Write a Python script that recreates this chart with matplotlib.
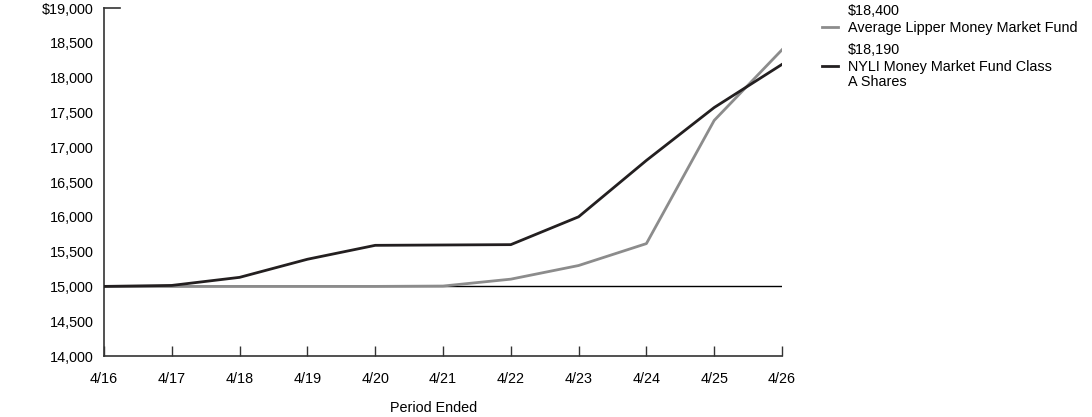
import matplotlib.pyplot as plt
from matplotlib.lines import Line2D

plt.rcParams['font.family'] = ['Liberation Sans', 'DejaVu Sans']

# data
periods = ['4/16', '4/17', '4/18', '4/19', '4/20', '4/21', '4/22', '4/23', '4/24', '4/25', '4/26']
nyli = [15000, 15014, 15130, 15390, 15590, 15595, 15600, 16000, 16810, 17570, 18190]
lipper = [15000, 15000, 15000, 15000, 15000, 15005, 15104, 15300, 15615, 17385, 18400]
lipper_label = 'Average Lipper Money Market Fund'
nyli_label = 'NYLI Money Market Fund Class\nA Shares'
yticks = [14000, 14500, 15000, 15500, 16000, 16500, 17000, 17500, 18000, 18500, 19000]

black = '#231f20'
gray = '#8c8c8c'
fs = 10.4

fig = plt.figure(figsize=(10.92, 4.17), dpi=100)
ax = fig.add_axes([104 / 1092, 1 - 356 / 417, (782 - 104) / 1092, (356 - 8) / 417])

x = list(range(len(periods)))
ax.axhline(15000, color='black', lw=1, zorder=1)
ax.plot(x, lipper, color=gray, lw=2, zorder=2)
ax.plot(x, nyli, color=black, lw=2, zorder=3)

ax.set_xlim(0, len(periods) - 1)
ax.set_ylim(14000, 19000)
ax.set_xticks(x)
ax.set_xticklabels(periods)
ax.set_yticks(yticks)
ax.set_yticklabels(['$19,000' if v == 19000 else f'{v:,}' for v in yticks])
ax.tick_params(axis='x', direction='in', length=7, width=1, color='#333333', labelsize=fs, pad=11.5)
ax.tick_params(axis='y', length=0, labelsize=fs, pad=7.5)
for s in ['top', 'right']:
    ax.spines[s].set_visible(False)
for s in ['left', 'bottom']:
    ax.spines[s].set_color('#333333')
    ax.spines[s].set_linewidth(1.2)
# short stub at the top of the y axis
ax.plot([0, 16 / 678], [1, 1], transform=ax.transAxes, color='#333333', lw=1.2, clip_on=False)

ax.set_xlabel('Period Ended', fontsize=fs, va='center')
ax.xaxis.set_label_coords((434 - 104) / 678, (356 - 408) / 348)

# legend drawn by hand
def fy(py):
    return 1 - py / 417

for val, label, color, py in [('$18,400', lipper_label, gray, 10), ('$18,190', nyli_label, black, 49)]:
    fig.text(848 / 1092, fy(py + 1), val, fontsize=fs, va='center', ha='left')
    fig.text(848 / 1092, fy(py + 18) + 0.5 * 14 / 417, label, fontsize=fs, va='top', ha='left', linespacing=1.1)
    fig.add_artist(Line2D([822 / 1092, 838 / 1092], [fy(py + 17), fy(py + 17)], color=color, lw=2))

fig.savefig('out.png', dpi=100)
